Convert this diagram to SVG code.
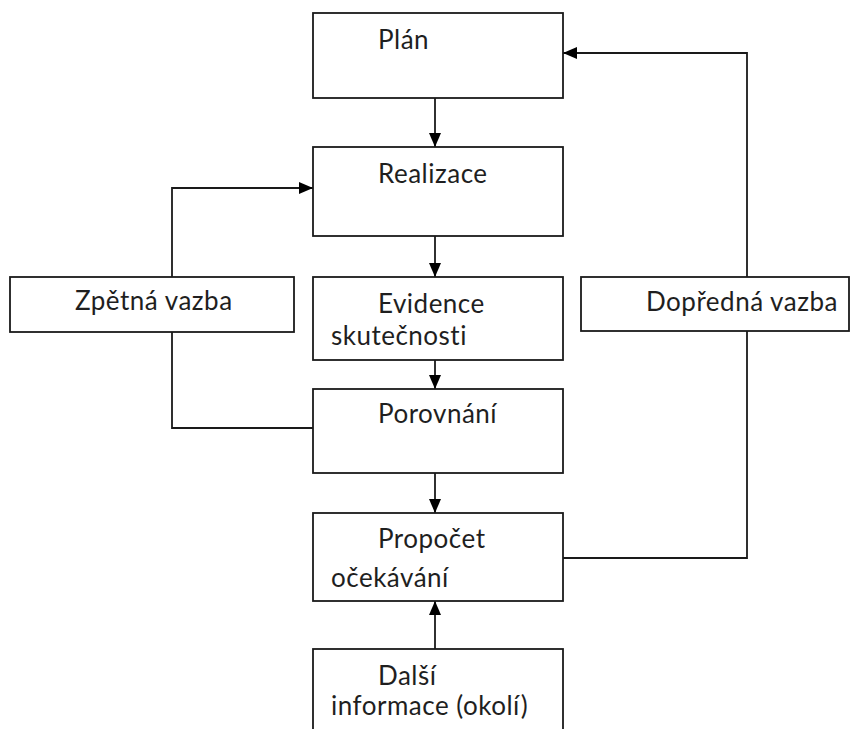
<svg xmlns="http://www.w3.org/2000/svg" width="851" height="729" viewBox="0 0 851 729">
<defs>
<marker id="ah" viewBox="0 0 14 12" refX="14" refY="6" markerWidth="14" markerHeight="12" markerUnits="userSpaceOnUse" orient="auto">
<path d="M0,0 L14,6 L0,12 Z" fill="#000"/>
</marker>
</defs>
<style>
.box{fill:#fff;stroke:#1a1a1a;stroke-width:1.8}
.t{font-family:Lato,"Open Sans","Liberation Sans",sans-serif;font-size:26px;letter-spacing:0.5px;fill:#1f1f1f}
.c{fill:none;stroke:#1a1a1a;stroke-width:1.8}
</style>
<rect width="851" height="729" fill="#fff"/>
<g id="connectors">
<line class="c" x1="435" y1="98" x2="435" y2="147" marker-end="url(#ah)"/>
<line class="c" x1="435" y1="236" x2="435" y2="277" marker-end="url(#ah)"/>
<line class="c" x1="435" y1="360" x2="435" y2="389" marker-end="url(#ah)"/>
<line class="c" x1="435" y1="473" x2="435" y2="513" marker-end="url(#ah)"/>
<line class="c" x1="435" y1="649" x2="435" y2="601" marker-end="url(#ah)"/>
<polyline class="c" points="172,277 172,188 313,188" marker-end="url(#ah)"/>
<polyline class="c" points="313,428 172,428 172,332"/>
<polyline class="c" points="563,558 747,558 747,331"/>
<polyline class="c" points="747,277 747,53 563,53" marker-end="url(#ah)"/>
</g>
<g id="plan"><rect class="box" x="313" y="13" width="250" height="85"/><text class="t" x="378" y="49">Plán</text></g>
<g id="realizace"><rect class="box" x="313" y="147" width="250" height="89"/><text class="t" x="378" y="183">Realizace</text></g>
<g id="evidence"><rect class="box" x="313" y="277" width="250" height="83"/><text class="t" x="378" y="313">Evidence</text><text class="t" x="331" y="345">skutečnosti</text></g>
<g id="porovnani"><rect class="box" x="313" y="389" width="250" height="84"/><text class="t" x="378" y="423">Porovnání</text></g>
<g id="propocet"><rect class="box" x="313" y="513" width="250" height="88"/><text class="t" x="378" y="548">Propočet</text><text class="t" x="331" y="587">očekávání</text></g>
<g id="dalsi"><rect class="box" x="313" y="649" width="250" height="90"/><text class="t" x="378" y="685">Další</text><text class="t" x="331" y="715">informace (okolí)</text></g>
<g id="zpetna"><rect class="box" x="10" y="277" width="284" height="55"/><text class="t" x="75" y="310">Zpětná vazba</text></g>
<g id="dopredna"><rect class="box" x="581" y="277" width="268" height="54"/><text class="t" x="646" y="311">Dopředná vazba</text></g>
</svg>
